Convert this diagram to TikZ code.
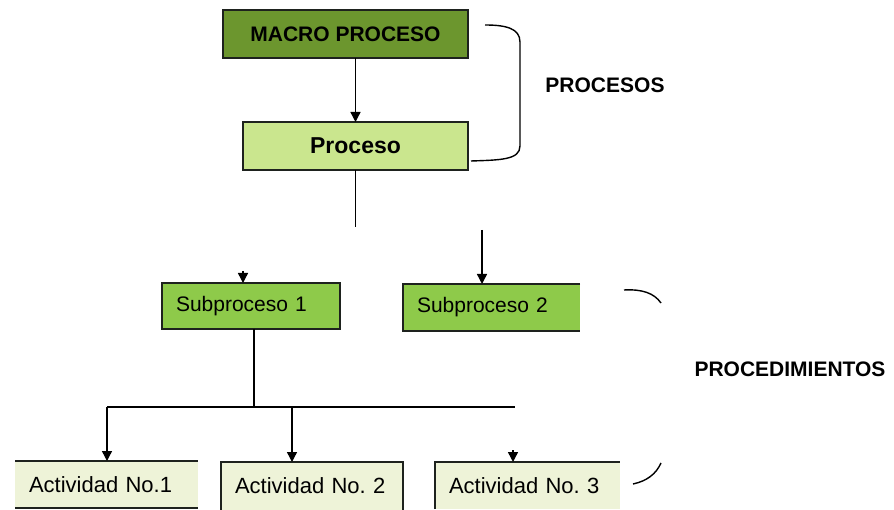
\documentclass[tikz,border=0pt]{standalone}
\usepackage{fontspec}
\setmainfont{Liberation Sans}
\frenchspacing
\usetikzlibrary{arrows.meta,calc}
\definecolor{macrog}{RGB}{108,150,46}
\definecolor{procg}{RGB}{202,230,142}
\definecolor{subg}{RGB}{142,202,74}
\definecolor{actg}{RGB}{238,243,216}
\definecolor{edgec}{RGB}{30,34,30}
\tikzset{
  boxfill/.style={inner sep=0pt, outer sep=0pt, text=black},
  leftbox/.style={inner xsep=14pt, inner ysep=0pt, outer sep=0pt, text=black, align=left},
  edgeline/.style={draw=edgec, line width=1.8pt},
  conn/.style={draw=black, line width=1.4pt},
  tip/.style={-{Triangle[length=10pt,width=10pt]}},
  bigbold/.style={font=\fontsize{21}{24}\selectfont\bfseries},
  subtxt/.style={font=\fontsize{21}{24}\selectfont},
  acttxt/.style={font=\fontsize{22}{25}\selectfont},
  brk/.style={draw=black, line width=1.4pt}
}
\begin{document}
\begin{tikzpicture}[x=1pt,y=1pt]
\useasboundingbox[fill=white] (0,0) rectangle (894,-510);
% boxes
\node[boxfill, fill=macrog, minimum width=245pt, minimum height=48pt, bigbold] (macro) at (345.5,-34) {MACRO PROCESO};
\node[boxfill, fill=procg, minimum width=225pt, minimum height=48pt, font=\fontsize{23}{26}\selectfont\bfseries] (proc) at (355.5,-146) {Proceso};
\node[leftbox, fill=subg, text width=150pt, minimum height=46pt, subtxt] (sub1) at (251,-306) {Subproceso~1};
\node[leftbox, fill=subg, text width=149pt, minimum height=47pt, subtxt] (sub2) at (491.5,-307.5) {Subproceso~2};
\node[leftbox, fill=actg, text width=155pt, minimum height=47pt, acttxt] (act1) at (106.5,-484.5) {Actividad~No.1};
\node[leftbox, fill=actg, text width=154pt, minimum height=48pt, acttxt] (act2) at (312,-486) {Actividad~No.~2};
\node[leftbox, fill=actg, text width=157pt, minimum height=47pt, acttxt] (act3) at (527.5,-485.5) {Actividad~No.~3};
% box edges (as visible)
\draw[edgeline] (macro.south west) rectangle (macro.north east);
\draw[edgeline] (proc.south west) rectangle (proc.north east);
\draw[edgeline] (sub1.south west) rectangle (sub1.north east);
\draw[edgeline] (sub2.north east) -- (sub2.north west) -- (sub2.south west) -- (sub2.south east);
\draw[edgeline] (act1.north west) -- (act1.north east);
\draw[edgeline] (act1.south west) -- (act1.south east);
\draw[edgeline] (act2.south west) -- (act2.north west) -- (act2.north east) -- (act2.south east);
\draw[edgeline] (act3.south west) -- (act3.north west) -- (act3.north east);
% labels
\node[bigbold] (lproc) at (605,-85) {PROCESOS};
\node[bigbold] (lprocd) at (790,-369) {PROCEDIMIENTOS};
% connectors
\draw[conn, tip] (macro.south -| proc.north) -- (proc.north);
\coordinate (pend) at (355.5,-227);
\draw[conn] (proc.south) -- (pend);
\coordinate (s2start) at (482,-230);
\draw[conn, tip] (s2start) -- (s2start |- sub2.north);
\coordinate (s1tip) at (243,-271);
\draw[conn, tip] (s1tip) -- (s1tip |- sub1.north);
\coordinate (bus) at (254,-407);
\coordinate (busl) at (107,-407);
\coordinate (busr) at (515,-407);
\coordinate (bus2) at (292,-407);
\draw[conn] (bus |- sub1.south) -- (bus);
\draw[conn] (busl) -- (busr);
\draw[conn, tip] (busl) -- (busl |- act1.north);
\draw[conn, tip] (bus2) -- (bus2 |- act2.north);
\coordinate (a3tip) at (513,-450);
\draw[conn, tip] (a3tip) -- (a3tip |- act3.north);
% brackets
\draw[brk] (485,-25) .. controls (505,-25) and (520,-28) .. (520,-42) -- (520,-146) .. controls (520,-160) and (500,-160) .. (471,-161);
\coordinate (bk1) at (624,-290);
\draw[brk] (bk1) .. controls (642,-289) and (654,-293) .. (661,-303);
\coordinate (bk2) at (633,-484);
\draw[brk] (bk2) .. controls (647,-481) and (656,-474) .. (661,-463);
\end{tikzpicture}
\end{document}
